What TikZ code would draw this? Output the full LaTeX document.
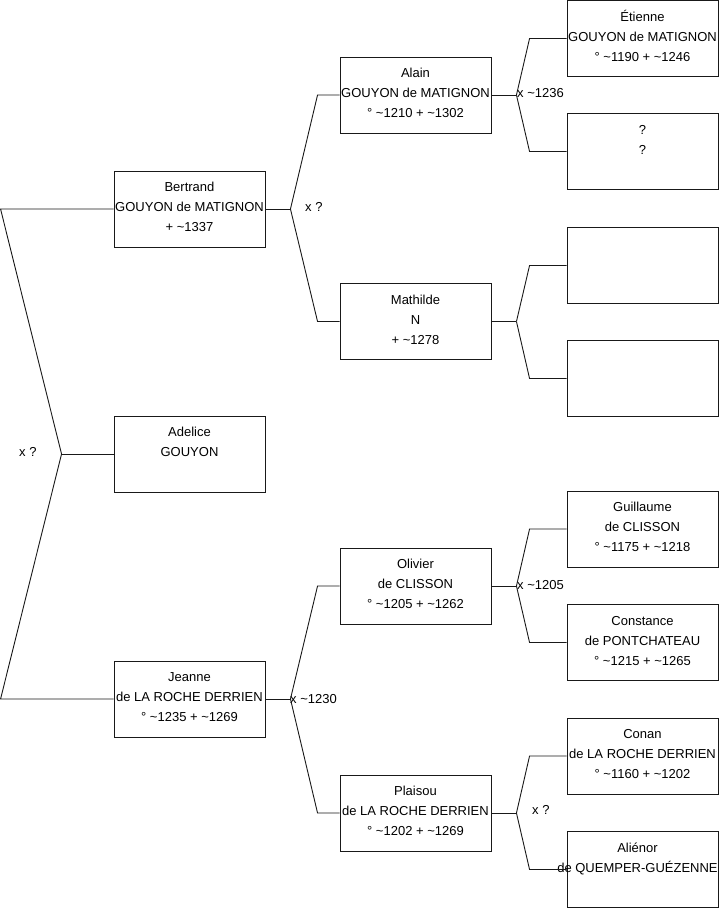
\documentclass[tikz,border=0pt]{standalone}
\usepackage{fontspec}
\setmainfont{Liberation Sans}
\usetikzlibrary{calc}
\newcommand\pfont{\fontsize{13}{20}\selectfont}
\newcommand\threelines[3]{\strut #1\\\strut #2\\\strut #3}
\tikzset{
  box/.style={draw=black!90, line width=0.9pt, minimum width=151pt, minimum height=76pt, inner sep=0pt},
  txt/.style={align=center, font=\pfont, inner sep=0pt, yshift=1.5pt},
  lbl/.style={anchor=west, font=\pfont, inner sep=0pt},
  con/.style={draw=black!90, line width=0.9pt},
}
\newcommand\famfork[4]{%
  \draw[con] (#1.east) -- ++(25pt,0) coordinate (f#1);
  \draw[con] (f#1) -- ([xshift=-#4]#2.west) -- (#2.west);
  \draw[con] (f#1) -- ([xshift=-#4]#3.west) -- (#3.west);
}
\begin{document}
\begin{tikzpicture}[x=1pt,y=-1pt]
\fill[white] (0,0) rectangle (719,908);
\useasboundingbox (0,0) rectangle (719,908);
% generation 1
\node[box] (bert) at (189.5,209) {};
\node[txt] at (bert) {\threelines{Bertrand}{GOUYON de MATIGNON}{+ \textasciitilde1337}};
\node[box] (adel) at (189.5,454) {};
\node[txt] at (adel) {\threelines{Adelice}{GOUYON}{}};
\node[box] (jean) at (189.5,699) {};
\node[txt] at (jean) {\threelines{Jeanne}{de LA ROCHE DERRIEN}{° \textasciitilde1235 + \textasciitilde1269}};
% generation 2
\node[box] (alain) at (415.5,95) {};
\node[txt] at (alain) {\threelines{Alain}{GOUYON de MATIGNON}{° \textasciitilde1210 + \textasciitilde1302}};
\node[box] (math) at (415.5,321.5) {};
\node[txt] at (math) {\threelines{Mathilde}{N}{+ \textasciitilde1278}};
\node[box] (oliv) at (415.5,586) {};
\node[txt] at (oliv) {\threelines{Olivier}{de CLISSON}{° \textasciitilde1205 + \textasciitilde1262}};
\node[box] (plai) at (415.5,813) {};
\node[txt] at (plai) {\threelines{Plaisou}{de LA ROCHE DERRIEN}{° \textasciitilde1202 + \textasciitilde1269}};
% generation 3
\node[box] (etie) at (642.5,38.5) {};
\node[txt] at (etie) {\threelines{Étienne}{GOUYON de MATIGNON}{° \textasciitilde1190 + \textasciitilde1246}};
\node[box] (unk) at (642.5,151.5) {};
\node[txt] at (unk) {\threelines{?}{?}{}};
\node[box] (emA) at (642.5,265.5) {};
\node[box] (emB) at (642.5,378.5) {};
\node[box] (guil) at (642.5,529) {};
\node[txt] at (guil) {\threelines{Guillaume}{de CLISSON}{° \textasciitilde1175 + \textasciitilde1218}};
\node[box] (cons) at (642.5,642.5) {};
\node[txt] at (cons) {\threelines{Constance}{de PONTCHATEAU}{° \textasciitilde1215 + \textasciitilde1265}};
\node[box] (cona) at (642.5,756) {};
\node[txt] at (cona) {\threelines{Conan}{de LA ROCHE DERRIEN}{° \textasciitilde1160 + \textasciitilde1202}};
\node[box] (alie) at (642.5,869.5) {};
\node[txt, xshift=-5pt] at (alie) {\threelines{Aliénor}{de QUEMPER-GUÉZENNE}{}};
% connectors
\draw[con] (adel.west) -- ++(-52pt,0) coordinate (froot);
\draw[con] (froot) -- ([xshift=-113pt]bert.west) -- (bert.west);
\draw[con] (froot) -- ([xshift=-113pt]jean.west) -- (jean.west);
\famfork{bert}{alain}{math}{22pt}
\famfork{jean}{oliv}{plai}{22pt}
\famfork{alain}{etie}{unk}{37pt}
\famfork{math}{emA}{emB}{37pt}
\famfork{oliv}{guil}{cons}{37pt}
\famfork{plai}{cona}{alie}{37pt}
% labels
\node[lbl] (l0) at (19,452) {x ?};
\node[lbl] (l1) at (305,207) {x ?};
\node[lbl] (l2) at (517,93) {x \textasciitilde1236};
\node[lbl] (l3) at (290,699) {x \textasciitilde1230};
\node[lbl] (l4) at (517,585) {x \textasciitilde1205};
\node[lbl] (l5) at (532,810) {x ?};
\end{tikzpicture}
\end{document}
